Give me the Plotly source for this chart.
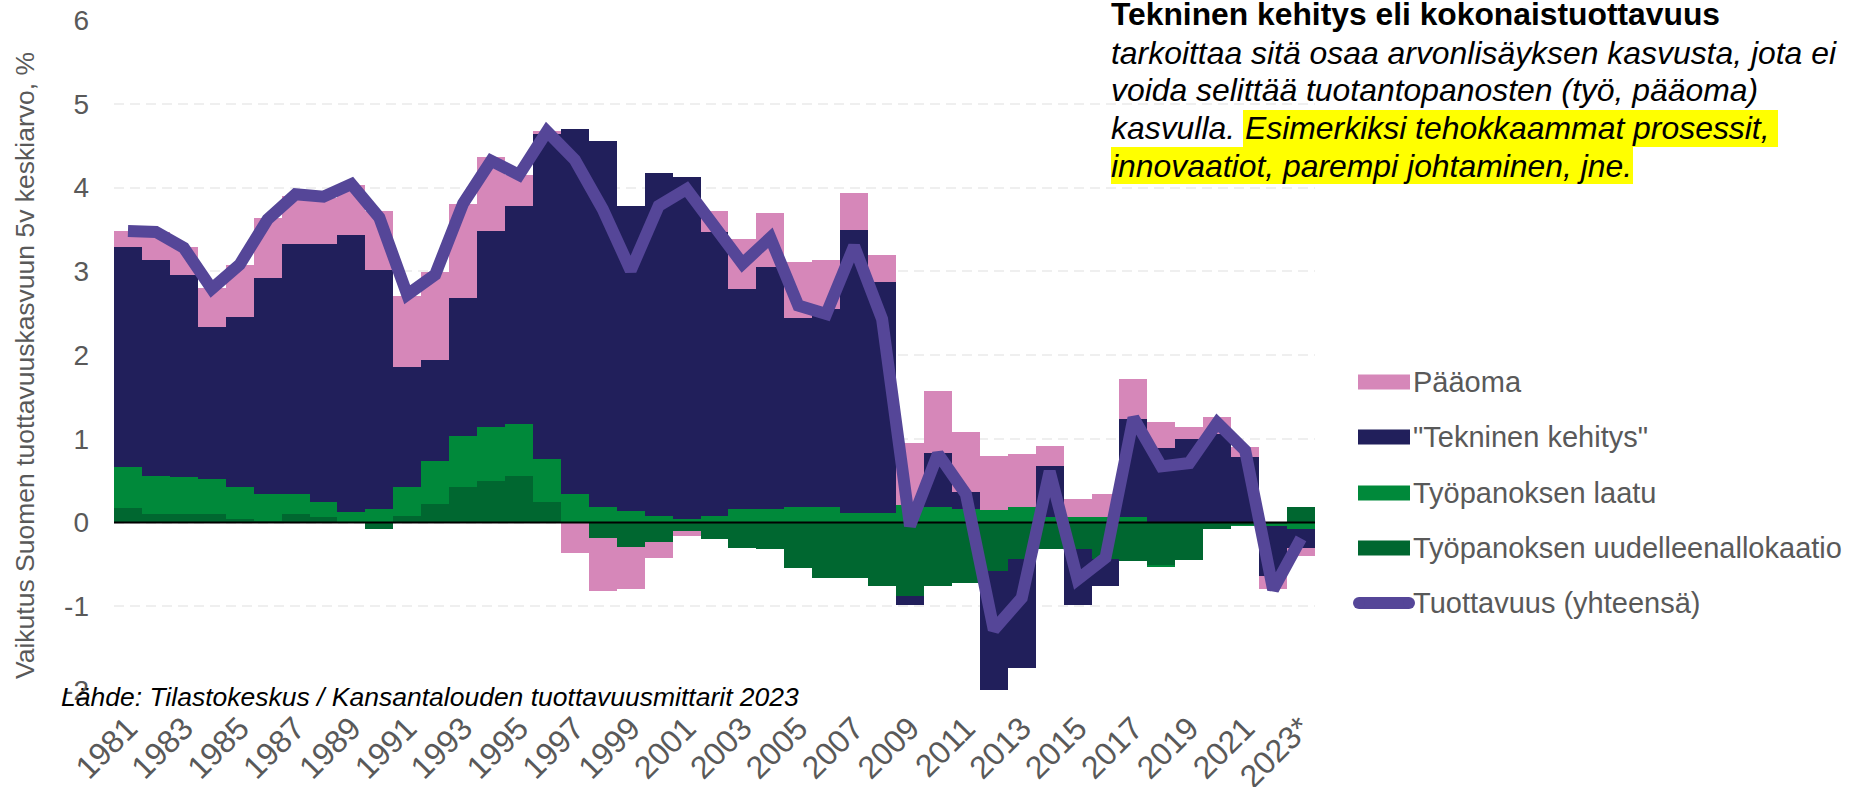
import plotly.graph_objects as go

years = list(range(1981, 2024))
tick_years = years[::2]
tick_labels = [str(y) for y in tick_years[:-1]] + ["2023*"]
y_ticks = [-2, -1, 0, 1, 2, 3, 4, 5, 6]
y_tick_labels = ["-2", "-1", "0", "1", "2", "3", "4", "5", "6"]

# Työpanoksen uudelleenallokaatio
allokaatio = [0.175, 0.10, 0.10, 0.10, 0.04, 0.02, 0.10, 0.06, 0.01, -0.08,
              0.075, 0.22, 0.42, 0.49, 0.557, 0.25, 0.0, -0.18, -0.29, -0.234,
              -0.10, -0.20, -0.30, -0.32, -0.54, -0.66, -0.66, -0.76, -0.88, -0.76,
              -0.72, -0.585, -0.43, -0.32, -0.32, -0.43, -0.46, -0.51, -0.45, -0.08,
              -0.03, -0.02, 0.18]
# Työpanoksen laatu
laatu = [0.49, 0.46, 0.44, 0.42, 0.38, 0.32, 0.24, 0.18, 0.12, 0.16,
         0.345, 0.52, 0.615, 0.65, 0.62, 0.51, 0.34, 0.18, 0.135, 0.08,
         0.04, 0.08, 0.156, 0.156, 0.19, 0.18, 0.113, 0.113, 0.21, 0.18,
         0.16, 0.15, 0.19, 0.07, 0.07, 0.07, 0.07, -0.02, 0.0, 0.0,
         -0.01, -0.02, -0.08]
# "Tekninen kehitys"
tekninen = [2.63, 2.58, 2.42, 1.82, 2.035, 2.58, 2.98, 3.08, 3.30, 2.86,
            1.434, 1.20, 1.643, 2.335, 2.60, 3.89, 4.36, 4.38, 3.645, 4.095,
            4.08, 3.387, 2.63, 2.90, 2.246, 2.375, 3.38, 2.76, -0.10, 0.655,
            0.20, -1.445, -1.31, 0.607, -0.66, -0.33, 1.167, 0.895, 0.994, 1.06,
            0.786, -0.60, -0.22]
# Pääoma
paaoma = [0.19, 0.33, 0.33, 0.46, 0.625, 0.72, 0.58, 0.56, 0.60, 0.70,
          0.846, 1.05, 1.13, 0.887, 0.377, 0.02, -0.37, -0.64, -0.50, -0.184,
          -0.06, 0.247, 0.595, 0.64, 0.68, 0.585, 0.443, 0.32, 0.745, 0.74,
          0.72, 0.646, 0.63, 0.238, 0.21, 0.27, 0.478, 0.30, 0.148, 0.20,
          0.12, -0.155, -0.10]
# Tuottavuus (yhteensä)
tuottavuus = [3.48, 3.47, 3.28, 2.79, 3.08, 3.62, 3.92, 3.89, 4.04, 3.64,
              2.72, 2.96, 3.81, 4.32, 4.15, 4.67, 4.33, 3.74, 3.01, 3.78,
              3.98, 3.53, 3.09, 3.40, 2.59, 2.49, 3.30, 2.43, -0.04, 0.82,
              0.34, -1.28, -0.90, 0.61, -0.68, -0.42, 1.25, 0.67, 0.71, 1.19,
              0.86, -0.80, -0.19]

C_PINK = "#d687b9"
C_NAVY = "#211f5b"
C_GREEN = "#00893a"
C_DGREEN = "#006730"
C_LINE = "#554698"
GREY = "#595959"
FONT = "Liberation Sans, Arial, sans-serif"

# plot area in pixels
L, R, T, B = 114, 1315, 20, 690
W, H = 1862, 787


def X(px):
    return (px - L) / (R - L)


def Y(py):
    return (B - py) / (B - T)


fig = go.Figure()
series = [
    ("Työpanoksen uudelleenallokaatio", allokaatio, C_DGREEN),
    ("Työpanoksen laatu", laatu, C_GREEN),
    ('"Tekninen kehitys"', tekninen, C_NAVY),
    ("Pääoma", paaoma, C_PINK),
]
for name, vals, col in series:
    fig.add_trace(go.Bar(x=years, y=vals, name=name, marker_color=col,
                         marker_line_width=0, showlegend=False))

# zero line (drawn above bars, below the total line)
fig.add_trace(go.Scatter(x=[1980.5, 2023.5], y=[0, 0], mode="lines",
                         line=dict(color="black", width=2),
                         showlegend=False, hoverinfo="skip"))
fig.add_trace(go.Scatter(x=years, y=tuottavuus, name="Tuottavuus (yhteensä)",
                         mode="lines", line=dict(color=C_LINE, width=12),
                         showlegend=False))

shapes = []
annotations = []

# custom legend
LEG_FS = 29
leg_items = [("Pääoma", C_PINK, 382), ('"Tekninen kehitys"', C_NAVY, 437),
             ("Työpanoksen laatu", C_GREEN, 493),
             ("Työpanoksen uudelleenallokaatio", C_DGREEN, 548)]
for txt, col, cy in leg_items:
    shapes.append(dict(type="rect", xref="paper", yref="paper",
                       x0=X(1358), x1=X(1410), y0=Y(cy + 7.5), y1=Y(cy - 7.5),
                       fillcolor=col, line_width=0))
    annotations.append(dict(text=txt, xref="paper", yref="paper", x=X(1411),
                            y=Y(cy), xanchor="left", yanchor="middle",
                            showarrow=False, font=dict(size=LEG_FS, color=GREY)))
cy = 603
shapes.append(dict(type="line", xref="paper", yref="paper", x0=X(1359), x1=X(1409),
                   y0=Y(cy), y1=Y(cy), line=dict(color=C_LINE, width=12)))
for cx in (1359, 1409):
    shapes.append(dict(type="circle", xref="paper", yref="paper",
                       x0=X(cx - 6), x1=X(cx + 6), y0=Y(cy + 6), y1=Y(cy - 6),
                       fillcolor=C_LINE, line_width=0))
annotations.append(dict(text="Tuottavuus (yhteensä)", xref="paper", yref="paper",
                        x=X(1411), y=Y(cy), xanchor="left", yanchor="middle",
                        showarrow=False, font=dict(size=LEG_FS, color=GREY)))

# y axis title
annotations.append(dict(text="Vaikutus Suomen tuottavuuskasvuun 5v keskiarvo, %",
                        xref="paper", yref="paper", x=X(25), y=Y(366),
                        textangle=-90, xanchor="center", yanchor="middle",
                        showarrow=False, font=dict(size=26.5, color=GREY)))

# source
annotations.append(dict(text="<i>Lähde: Tilastokeskus / Kansantalouden tuottavuusmittarit 2023</i>",
                        xref="paper", yref="paper", x=X(59), y=Y(697),
                        xanchor="left", yanchor="middle", showarrow=False,
                        font=dict(size=26.5, color="black")))

# explanatory text, top right
shapes.append(dict(type="rect", xref="paper", yref="paper", x0=X(1243), x1=X(1778),
                   y0=Y(147), y1=Y(110), fillcolor="#ffff00", line_width=0))
shapes.append(dict(type="rect", xref="paper", yref="paper", x0=X(1111), x1=X(1633),
                   y0=Y(184), y1=Y(147), fillcolor="#ffff00", line_width=0))
BODY = 31.9
text_lines = [
    ("<b>Tekninen kehitys eli kokonaistuottavuus</b>", 1109, 14, 31.8),
    ("<i>tarkoittaa sitä osaa arvonlisäyksen kasvusta, jota ei</i>", 1109, 53, BODY),
    ("<i>voida selittää tuotantopanosten (työ, pääoma)</i>", 1109, 90, BODY),
    ("<i>kasvulla.</i>", 1109, 128, BODY),
    ("<i>Esimerkiksi tehokkaammat prosessit,</i>", 1243, 128, BODY),
    ("<i>innovaatiot, parempi johtaminen, jne.</i>", 1109, 166, BODY),
]
for txt, px, py, fs in text_lines:
    annotations.append(dict(text=txt, xref="paper", yref="paper", x=X(px), y=Y(py),
                            xanchor="left", yanchor="middle", showarrow=False,
                            font=dict(size=fs, color="black")))

fig.update_layout(
    width=W, height=H,
    margin=dict(l=L, r=W - R, t=T, b=H - B, autoexpand=False),
    barmode="relative", bargap=0,
    plot_bgcolor="white", paper_bgcolor="white",
    font=dict(family=FONT, size=26, color=GREY),
    showlegend=False,
    shapes=shapes, annotations=annotations,
    xaxis=dict(range=[1980.5, 2023.5], tickvals=tick_years, ticktext=tick_labels,
               tickangle=-45, showgrid=False, zeroline=False, showline=False,
               ticks="", ticklabelstandoff=12,
               tickfont=dict(size=32, color=GREY), automargin=False),
    yaxis=dict(range=[-2, 6], tickvals=y_ticks, ticktext=y_tick_labels,
               showgrid=True, gridcolor="#efefef",
               gridwidth=2, griddash="10px,6px", zeroline=False, showline=False,
               ticks="", ticklabelstandoff=24,
               tickfont=dict(size=28, color=GREY), automargin=False),
)

fig.write_html("out.html",
               config={"displayModeBar": False},
               post_script="document.body.style.margin='0px';"
                           "document.body.style.overflow='hidden';")
